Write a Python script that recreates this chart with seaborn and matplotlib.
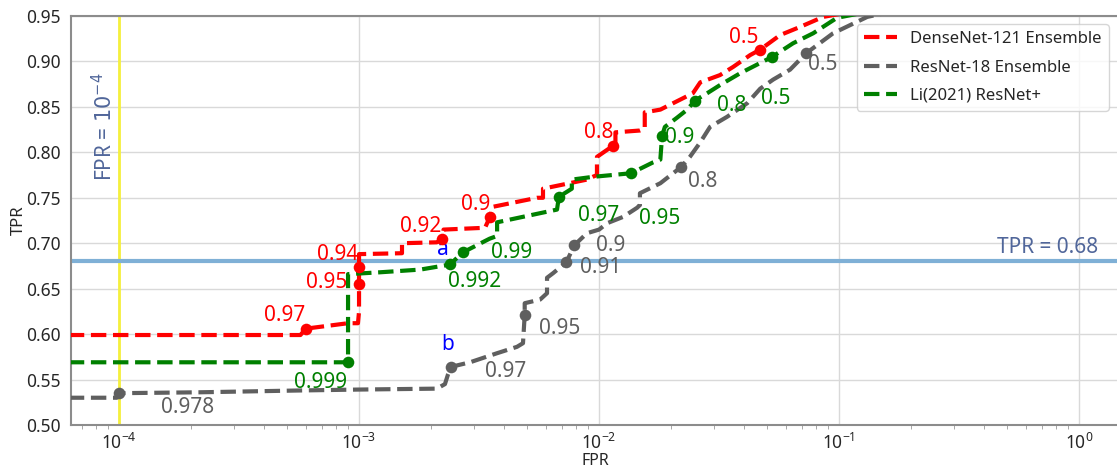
import numpy as np
import pandas as pd
import seaborn as sns
import matplotlib.pyplot as plt

# ROC curves (FPR, TPR)
dense_fpr = [5e-5, 5.7e-4, 6.0e-4, 9.0e-4, 9.9e-4, 1.0e-3, 1.0e-3, 1.0e-3, 1.0e-3, 1.51e-3,
             1.51e-3, 2.11e-3, 2.22e-3, 2.25e-3, 3.35e-3, 3.51e-3, 3.6e-3, 5.52e-3, 5.84e-3,
             5.84e-3, 8.9e-3, 9.4e-3, 9.8e-3, 9.8e-3, 1.14e-2, 1.17e-2, 1.17e-2, 1.48e-2,
             1.55e-2, 1.55e-2, 1.80e-2, 2.46e-2, 2.64e-2, 3.19e-2, 3.62e-2, 4.26e-2, 4.69e-2,
             5.68e-2, 6.88e-2, 8.58e-2, 1.0]
dense_tpr = [0.599, 0.599, 0.606, 0.612, 0.612, 0.625, 0.655, 0.674, 0.688, 0.689,
             0.700, 0.701, 0.705, 0.715, 0.717, 0.729, 0.740, 0.750, 0.750,
             0.760, 0.770, 0.773, 0.775, 0.795, 0.807, 0.810, 0.822, 0.824,
             0.826, 0.844, 0.847, 0.865, 0.877, 0.885, 0.894, 0.907, 0.913,
             0.929, 0.938, 0.949, 1.0]

resnet_fpr = [5e-5, 9.8e-5, 1.0e-4, 2.18e-4, 5.7e-4, 1.0e-3, 2.11e-3, 2.28e-3, 2.35e-3,
              2.42e-3, 2.90e-3, 3.76e-3, 4.55e-3, 4.82e-3, 4.9e-3, 4.9e-3, 5.68e-3, 6.07e-3,
              6.07e-3, 6.43e-3, 7.3e-3, 7.9e-3, 8.9e-3, 1.0e-2, 1.08e-2, 1.26e-2, 1.44e-2,
              1.48e-2, 1.48e-2, 1.80e-2, 2.2e-2, 2.39e-2, 2.64e-2, 2.90e-2, 3.41e-2, 4.14e-2,
              4.69e-2, 5.31e-2, 6.25e-2, 7.29e-2, 9.44e-2, 0.131, 1.0]
resnet_tpr = [0.530, 0.530, 0.535, 0.536, 0.538, 0.539, 0.540, 0.545, 0.556,
              0.564, 0.569, 0.579, 0.586, 0.590, 0.621, 0.634, 0.638, 0.645,
              0.662, 0.667, 0.679, 0.698, 0.711, 0.715, 0.722, 0.729, 0.739,
              0.742, 0.755, 0.766, 0.784, 0.795, 0.811, 0.828, 0.839, 0.854,
              0.870, 0.880, 0.891, 0.909, 0.931, 0.949, 1.0]

li_fpr = [5e-5, 9.0e-4, 9.0e-4, 1.22e-3, 1.80e-3, 2.33e-3, 2.40e-3, 2.71e-3, 3.5e-3, 3.76e-3,
          3.76e-3, 6.68e-3, 6.8e-3, 7.7e-3, 7.7e-3, 9.4e-3, 1.36e-2, 1.68e-2, 1.80e-2, 1.83e-2,
          1.88e-2, 2.11e-2, 2.33e-2, 2.51e-2, 2.82e-2, 3.19e-2, 3.87e-2, 5.26e-2, 6.43e-2,
          7.8e-2, 9.8e-2, 1.0]
li_tpr = [0.569, 0.569, 0.666, 0.668, 0.671, 0.676, 0.677, 0.690, 0.705, 0.708,
          0.723, 0.737, 0.751, 0.760, 0.770, 0.773, 0.777, 0.789, 0.792, 0.818,
          0.828, 0.838, 0.847, 0.857, 0.865, 0.874, 0.887, 0.905, 0.920,
          0.931, 0.948, 1.0]

# threshold markers
dense_thr = ['0.97', '0.95', '0.94', '0.92', '0.9', '0.8', '0.5']
dense_thr_fpr = [6.0e-4, 1.0e-3, 1.0e-3, 2.22e-3, 3.51e-3, 1.14e-2, 4.69e-2]
dense_thr_tpr = [0.606, 0.655, 0.674, 0.705, 0.729, 0.807, 0.913]

resnet_thr = ['0.978', '0.97', '0.95', '0.91', '0.9', '0.8', '0.5']
resnet_thr_fpr = [1.0e-4, 2.42e-3, 4.9e-3, 7.3e-3, 7.9e-3, 2.2e-2, 7.29e-2]
resnet_thr_tpr = [0.535, 0.564, 0.621, 0.679, 0.698, 0.784, 0.909]

li_thr = ['0.999', '0.992', '0.99', '0.97', '0.95', '0.9', '0.8', '0.5']
li_thr_fpr = [9.0e-4, 2.40e-3, 2.71e-3, 6.8e-3, 1.36e-2, 1.83e-2, 2.51e-2, 5.26e-2]
li_thr_tpr = [0.569, 0.677, 0.690, 0.751, 0.777, 0.818, 0.857, 0.905]

fpr_ref = 1e-4
tpr_ref = 0.68

# label offsets in pixels (layout only)
dense_off = [(-21, 13), (-32, 2), (-21, 12), (-21, 12), (-14, 12), (-14, 13), (-16, 12)]
resnet_off = [(69, -14), (54, -5), (35, -13), (34, -5), (36, 0), (21, -15), (17, -11)]
li_off = [(-27, -20), (24, -17), (49, 0), (40, -19), (29, -45), (18, -2), (37, -5), (4, -42)]


def main():
    sns.set_style("whitegrid")
    plt.rcParams['font.family'] = ['Noto Sans', 'DejaVu Sans']

    fig = plt.figure(figsize=(11.17, 4.69), dpi=100)
    ax = fig.add_axes([71 / 1117, 44 / 469, 1049 / 1117, 409 / 469])

    curves = [
        ('DenseNet-121 Ensemble', dense_fpr, dense_tpr, 'red',
         dense_thr, dense_thr_fpr, dense_thr_tpr, dense_off),
        ('ResNet-18 Ensemble', resnet_fpr, resnet_tpr, '#5f5f5f',
         resnet_thr, resnet_thr_fpr, resnet_thr_tpr, resnet_off),
        ('Li(2021) ResNet+', li_fpr, li_tpr, 'green',
         li_thr, li_thr_fpr, li_thr_tpr, li_off),
    ]

    for name, fx, fy, col, thr, tx, ty, off in curves:
        df = pd.DataFrame({'FPR': fx, 'TPR': fy})
        sns.lineplot(data=df, x='FPR', y='TPR', ax=ax, color=col, lw=3,
                     linestyle='--', estimator=None, sort=False, label=name, zorder=3)
        sns.scatterplot(x=tx, y=ty, ax=ax, color=col, s=70, edgecolor=col,
                        linewidth=0, zorder=4, legend=False)
        for t, x, y, (dx, dy) in zip(thr, tx, ty, off):
            ax.annotate(t, (x, y), xytext=(dx, dy), textcoords='offset pixels',
                        ha='center', va='center', fontsize=15, color=col)

    # letters marking operating points a and b
    ax.annotate('a', (li_thr_fpr[1], li_thr_tpr[1]), xytext=(-7, 15),
                textcoords='offset pixels', ha='center', va='center',
                fontsize=15, color='blue')
    ax.annotate('b', (resnet_thr_fpr[1], resnet_thr_tpr[1]), xytext=(-4, 22),
                textcoords='offset pixels', ha='center', va='center',
                fontsize=15, color='blue')

    ax.axvline(fpr_ref, color='#f5f03c', lw=2, zorder=2)
    ax.axhline(tpr_ref, color='#7fb0d6', lw=3, zorder=2)
    ax.text(8.7e-5, 0.828, r'FPR = $10^{-4}$', rotation=90, ha='center', va='center',
            fontsize=15, color='#50669a')
    ax.text(1.2, tpr_ref + 0.004, 'TPR = 0.68', ha='right', va='bottom',
            fontsize=15, color='#50669a')

    ax.set_xscale('log')
    ax.set_xlim(6.31e-5, 1.48)
    ax.set_ylim(0.50, 0.95)
    ax.set_yticks(np.arange(0.50, 0.951, 0.05))
    ax.set_yticklabels([f'{v:.2f}' for v in np.arange(0.50, 0.951, 0.05)])
    ax.set_xticks([1e-4, 1e-3, 1e-2, 1e-1, 1e0])
    ax.tick_params(axis='y', labelsize=12.5, pad=4)
    ax.tick_params(axis='x', labelsize=12.5, pad=2)
    ax.tick_params(axis='x', which='minor', bottom=True, length=3, color='0.6')
    ax.set_xlabel('FPR', fontsize=11.5, labelpad=0)
    ax.set_ylabel('TPR', fontsize=12, labelpad=-1)
    ax.grid(True, which='major', color='0.85', lw=1)
    for sp in ax.spines.values():
        sp.set_color('0.55')
        sp.set_linewidth(1.5)

    ax.legend(loc='upper right', fontsize=12, handlelength=2, frameon=True,
              labelspacing=0.75, bbox_to_anchor=(0.997, 1.0), borderaxespad=0.5)

    fig.savefig('out.png', dpi=100)


if __name__ == '__main__':
    main()
